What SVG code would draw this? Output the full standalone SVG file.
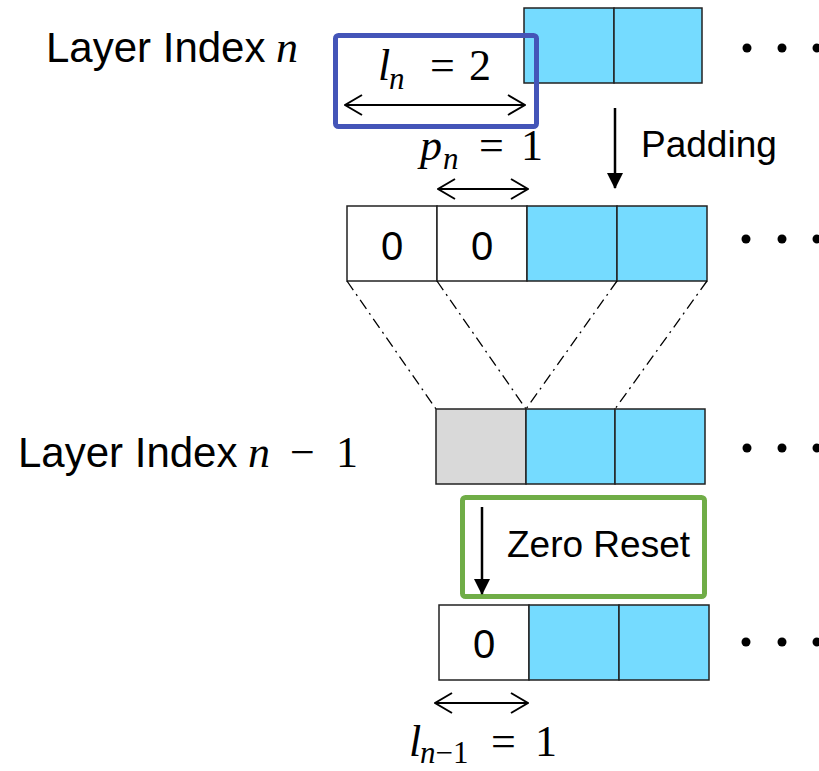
<svg xmlns="http://www.w3.org/2000/svg" width="819" height="771" viewBox="0 0 819 771">
  <style>
    .cell { stroke: #222; stroke-width: 1.5; }
    .blue { fill: #75DBFF; }
    .white { fill: #FFFFFF; }
    .gray { fill: #D9D9D9; }
    .lbl { font-family: "Liberation Sans", Arial, sans-serif; fill: #000; }
    .math { font-family: "Liberation Serif", "Times New Roman", serif; fill: #000; font-size: 44px; }
    .it { font-style: italic; }
    .sub { font-size: 31px; }
    .dot { fill: #000; }
    .dim { stroke: #000; stroke-width: 2; fill: none; marker-start: url(#chev); marker-end: url(#chev); }
    .guide { stroke: #000; stroke-width: 1.3; fill: none; stroke-dasharray: 11 5 2 5; }
    .step { stroke: #000; stroke-width: 2.5; fill: none; marker-end: url(#tri); }
  </style>
  <defs>
    <marker id="chev" viewBox="0 0 20 22" refX="19" refY="11" markerWidth="20" markerHeight="22" markerUnits="userSpaceOnUse" orient="auto-start-reverse">
      <path d="M2,1 L19,11 L2,21" fill="none" stroke="#000" stroke-width="2"/>
    </marker>
    <marker id="tri" viewBox="0 0 16 16" refX="8" refY="15" markerWidth="16" markerHeight="16" markerUnits="userSpaceOnUse" orient="0">
      <path d="M0,0 L16,0 L8,16 Z" fill="#000"/>
    </marker>
  </defs>

  <!-- layer labels -->
  <g id="label-layer-n">
    <text class="lbl" x="46" y="62" font-size="42">Layer Index</text>
    <text class="math it" x="276" y="62" font-size="48">n</text>
  </g>
  <g id="label-layer-n-1">
    <text class="lbl" x="18" y="467" font-size="42">Layer Index</text>
    <text class="math it" x="248" y="467" font-size="48">n</text>
    <text class="math" x="290" y="467" font-size="48">−</text>
    <text class="math" x="336" y="467" font-size="48">1</text>
  </g>

  <!-- layer n input cells -->
  <g id="row-input">
    <rect class="cell blue" x="524" y="8" width="90" height="75"/>
    <rect class="cell blue" x="614" y="8" width="88" height="75"/>
    <circle class="dot" cx="747" cy="48" r="4.5"/>
    <circle class="dot" cx="782" cy="48" r="4.5"/>
    <circle class="dot" cx="817" cy="48" r="4.5"/>
  </g>

  <!-- l_n highlight box -->
  <g id="box-ln">
    <rect x="335.5" y="35.5" width="201" height="91" rx="3" fill="none" stroke="#4455B8" stroke-width="5"/>
    <text class="math" y="80"><tspan class="it" x="378">l</tspan><tspan class="it sub" x="389" dy="9">n</tspan></text>
    <text class="math" x="430" y="80">=</text>
    <text class="math" x="469" y="80">2</text>
    <line class="dim" x1="345" y1="105" x2="525" y2="105"/>
  </g>

  <!-- padding width -->
  <g id="label-pn">
    <text class="math" y="160"><tspan class="it" x="420">p</tspan><tspan class="it sub" x="443" dy="9">n</tspan></text>
    <text class="math" x="479" y="160">=</text>
    <text class="math" x="521" y="160">1</text>
    <line class="dim" x1="438" y1="189" x2="528" y2="189"/>
  </g>

  <!-- padding step -->
  <g id="step-padding">
    <line class="step" x1="615" y1="108" x2="615" y2="188"/>
    <text class="lbl" x="641" y="157" font-size="37">Padding</text>
  </g>

  <!-- padded row -->
  <g id="row-padded">
    <rect class="cell white" x="347" y="206" width="90" height="75"/>
    <rect class="cell white" x="437" y="206" width="90" height="75"/>
    <rect class="cell blue" x="527" y="206" width="90" height="75"/>
    <rect class="cell blue" x="617" y="206" width="90" height="75"/>
    <text class="lbl" x="392" y="260" font-size="40" text-anchor="middle">0</text>
    <text class="lbl" x="482" y="260" font-size="40" text-anchor="middle">0</text>
    <circle class="dot" cx="746" cy="239" r="4.5"/>
    <circle class="dot" cx="782" cy="239" r="4.5"/>
    <circle class="dot" cx="817" cy="239" r="4.5"/>
  </g>

  <!-- receptive field guides -->
  <g id="connectors">
    <line class="guide" x1="347" y1="281" x2="436" y2="409"/>
    <line class="guide" x1="437" y1="281" x2="526" y2="409"/>
    <line class="guide" x1="617" y1="281" x2="526" y2="409"/>
    <line class="guide" x1="707" y1="281" x2="615" y2="409"/>
  </g>

  <!-- layer n-1 output row -->
  <g id="row-output">
    <rect class="cell gray" x="436" y="409" width="90" height="75"/>
    <rect class="cell blue" x="526" y="409" width="89" height="75"/>
    <rect class="cell blue" x="615" y="409" width="90" height="75"/>
    <circle class="dot" cx="747" cy="448" r="4.5"/>
    <circle class="dot" cx="782" cy="448" r="4.5"/>
    <circle class="dot" cx="817" cy="448" r="4.5"/>
  </g>

  <!-- zero reset step -->
  <g id="step-zero-reset">
    <rect x="462.5" y="497.5" width="242" height="99" rx="3" fill="none" stroke="#70AD47" stroke-width="5"/>
    <line class="step" x1="482" y1="507" x2="482" y2="594"/>
    <text class="lbl" x="507" y="557" font-size="37">Zero Reset</text>
  </g>

  <!-- reset row -->
  <g id="row-reset">
    <rect class="cell white" x="439" y="605" width="90" height="75"/>
    <rect class="cell blue" x="529" y="605" width="90" height="75"/>
    <rect class="cell blue" x="619" y="605" width="90" height="75"/>
    <text class="lbl" x="484" y="658" font-size="40" text-anchor="middle">0</text>
    <circle class="dot" cx="746" cy="642" r="4.5"/>
    <circle class="dot" cx="782" cy="642" r="4.5"/>
    <circle class="dot" cx="817" cy="642" r="4.5"/>
  </g>

  <!-- l_{n-1} width -->
  <g id="label-ln-1">
    <line class="dim" x1="435" y1="703" x2="528" y2="703"/>
    <text class="math" y="756"><tspan class="it" x="409">l</tspan><tspan class="it sub" x="420" dy="7">n</tspan><tspan class="sub">−1</tspan></text>
    <text class="math" x="491" y="756">=</text>
    <text class="math" x="535" y="756">1</text>
  </g>
</svg>
